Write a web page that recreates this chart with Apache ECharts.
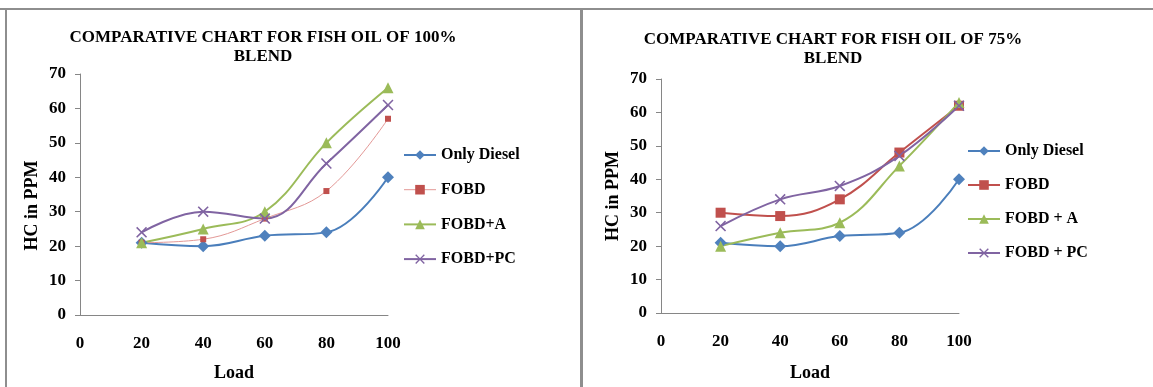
<!DOCTYPE html>
<html>
<head>
<meta charset="utf-8">
<script src="https://cdn.jsdelivr.net/npm/echarts@6/dist/echarts.min.js"></script>
<style>
html,body{margin:0;padding:0;background:#fff;}
#c{width:1153px;height:387px;}
</style>
</head>
<body>
<div id="c"></div>
<script>
// ---- data ----
const loads = [20, 40, 60, 80, 100];
const xTicks = [0, 20, 40, 60, 80, 100];
const yTicks = [0, 10, 20, 30, 40, 50, 60, 70];

const title100 = 'COMPARATIVE CHART FOR FISH OIL OF 100%\nBLEND';
const title75 = 'COMPARATIVE CHART FOR FISH OIL OF 75%\nBLEND';
const names100 = ['Only Diesel', 'FOBD', 'FOBD+A', 'FOBD+PC'];
const names75 = ['Only Diesel', 'FOBD', 'FOBD + A', 'FOBD + PC'];

// 100% blend
const diesel100 = [21, 20, 23, 24, 40];
const fobd100 = [21, 22, 28, 36, 57];
const fobdA100 = [21, 25, 30, 50, 66];
const fobdPC100 = [24, 30, 28, 44, 61];

// 75% blend
const diesel75 = [21, 20, 23, 24, 40];
const fobd75 = [30, 29, 34, 48, 62];
const fobdA75 = [20, 24, 27, 44, 63];
const fobdPC75 = [26, 34, 38, 47, 62];

// ---- styling ----
const FONT = '"Liberation Serif", "Times New Roman", serif';
const BLUE = '#4A7EBB', BLUE_M = '#4F81BD';
const RED = '#C0504D', PINK = '#E39896';
const GREEN = '#9BBB59';
const PURPLE = '#8064A2';
const AXIS = '#868686';
const XSYM = 'path://M0,1L1,0L5,4L9,0L10,1L6,5L10,9L9,10L5,6L1,10L0,9L4,5Z';

const pts = (vals) => loads.map((x, i) => [x, vals[i]]);

function mkSeries(name, vals, idx, color, mcolor, symbol, size, width) {
  return {
    name: name, type: 'line', xAxisIndex: idx, yAxisIndex: idx,
    data: pts(vals), smooth: 0.4,
    symbol: symbol, symbolSize: size,
    lineStyle: {color: color, width: width},
    itemStyle: {color: mcolor},
    emphasis: {disabled: true},
    z: 3
  };
}

function xAxis(idx, gap) {
  return {
    gridIndex: idx, type: 'value', min: 0, max: 100, interval: 20,
    axisLine: {show: true, lineStyle: {color: AXIS, width: 1}},
    axisTick: {show: false},
    splitLine: {show: false},
    axisLabel: {margin: 20, fontFamily: FONT, fontWeight: 'bold', fontSize: 17, color: '#000',
      customValues: xTicks},
    name: 'Load', nameLocation: 'middle', nameGap: gap,
    nameTextStyle: {fontFamily: FONT, fontWeight: 'bold', fontSize: 18, color: '#000'}
  };
}
function yAxis(idx, pad) {
  return {
    gridIndex: idx, type: 'value', min: 0, max: 70, interval: 10,
    axisLine: {show: true, lineStyle: {color: AXIS, width: 1}},
    axisTick: {show: true, inside: false, length: 5, lineStyle: {color: AXIS}},
    splitLine: {show: false},
    axisLabel: {margin: 14, fontFamily: FONT, fontWeight: 'bold', fontSize: 17, color: '#000'},
    name: 'HC in PPM', nameLocation: 'middle', nameGap: 39, nameRotate: 90,
    nameTextStyle: {fontFamily: FONT, fontWeight: 'bold', fontSize: 18, color: '#000', padding: pad}
  };
}
function legend(left, top, gap, names, extra) {
  return {
    orient: 'vertical', left: left, top: top, itemWidth: 32, itemHeight: 12, itemGap: gap,
    selectedMode: false, padding: 0,
    textStyle: {fontFamily: FONT, fontWeight: 'bold', fontSize: 16, color: '#000', lineHeight: 16},
    data: names.map((n, i) => Object.assign({name: n}, extra[i] || {}))
  };
}

const chart = echarts.init(document.getElementById('c'), null, {renderer: 'canvas'});
chart.setOption({
  animation: false,
  backgroundColor: '#fff',
  title: [
    {text: title100, left: 263, top: 28, textAlign: 'center', padding: 0,
     textStyle: {fontFamily: FONT, fontWeight: 'bold', fontSize: 17, color: '#000', lineHeight: 19}},
    {text: title75, left: 833, top: 30, textAlign: 'center', padding: 0,
     textStyle: {fontFamily: FONT, fontWeight: 'bold', fontSize: 17, color: '#000', lineHeight: 19}}
  ],
  grid: [
    {left: 80, top: 74, width: 308, height: 243},
    {left: 661, top: 79, width: 298, height: 239}
  ],
  xAxis: [xAxis(0, 49), xAxis(1, 51)],
  yAxis: [yAxis(0, [0, 22, 0, 0]), yAxis(1, [0, 0, 0, 0])],
  legend: [
    legend(403, 147, 18.7, names100, [{}, {lineStyle: {color: PINK, width: 1}, itemStyle: {color: RED}}, {}, {}]),
    legend(967, 143, 18, names75, [{}, {lineStyle: {color: RED, width: 2}, itemStyle: {color: RED}}, {}, {}])
  ],
  graphic: [
    {type: 'rect', shape: {x: 0, y: 8, width: 1153, height: 2}, style: {fill: '#8E8E8E'}, silent: true},
    {type: 'rect', shape: {x: 5, y: 8, width: 2, height: 379}, style: {fill: '#8E8E8E'}, silent: true},
    {type: 'rect', shape: {x: 580, y: 8, width: 3, height: 379}, style: {fill: '#8E8E8E'}, silent: true}
  ],
  series: [
    mkSeries('Only Diesel', diesel100, 0, BLUE, BLUE_M, 'diamond', 12, 2),
    mkSeries('FOBD', fobd100, 0, PINK, RED, 'rect', 6, 1),
    mkSeries('FOBD+A', fobdA100, 0, GREEN, GREEN, 'triangle', 11, 2),
    mkSeries('FOBD+PC', fobdPC100, 0, PURPLE, PURPLE, XSYM, 11, 2),
    mkSeries('Only Diesel', diesel75, 1, BLUE, BLUE_M, 'diamond', 12, 2),
    mkSeries('FOBD', fobd75, 1, RED, RED, 'rect', 10, 2),
    mkSeries('FOBD + A', fobdA75, 1, GREEN, GREEN, 'triangle', 11, 2),
    mkSeries('FOBD + PC', fobdPC75, 1, PURPLE, PURPLE, XSYM, 11, 2)
  ]
});
</script>
</body>
</html>
